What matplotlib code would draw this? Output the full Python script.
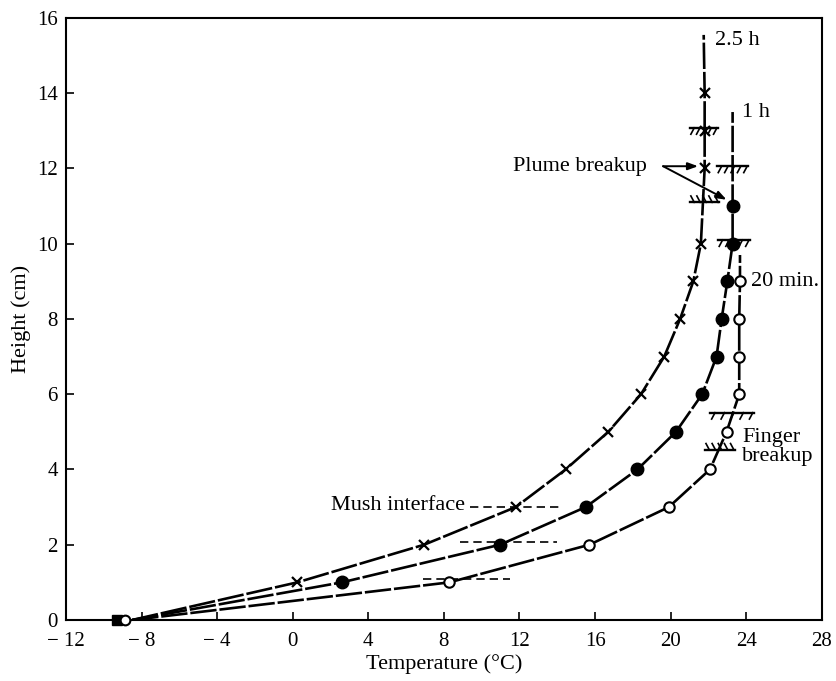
import matplotlib
matplotlib.use("Agg")
import matplotlib.pyplot as plt
import numpy as np

plt.rcParams['font.family'] = ['Liberation Serif', 'DejaVu Serif']
plt.rcParams['mathtext.fontset'] = 'stix'

# ---- data ----
# 2.5 h curve (x markers)
h_25 = [1, 2, 3, 4, 5, 6, 7, 8, 9, 10, 12, 13, 14]
T_25 = [0.24, 6.95, 11.8, 14.44, 16.7, 18.43, 19.66, 20.5, 21.2, 21.6, 21.8, 21.8, 21.8]
# line trace for 2.5 h (start, markers, top)
lh_25 = [0, 1, 2, 3, 4, 5, 6, 7, 8, 9, 10, 11, 12, 13, 14, 15.55]
lT_25 = [-8.5, 0.24, 6.95, 11.8, 14.44, 16.7, 18.43, 19.66, 20.5, 21.2, 21.6, 21.7, 21.8, 21.8, 21.8, 21.75]

# 1 h curve (filled circles)
h_1 = [1, 2, 3, 4, 5, 6, 7, 8, 9, 10, 11]
T_1 = [2.6, 10.97, 15.5, 18.24, 20.28, 21.67, 22.43, 22.7, 23.0, 23.28, 23.28]
lh_1 = [0, 1, 2, 3, 4, 5, 6, 7, 8, 9, 10, 11, 13.5]
lT_1 = [-8.5, 2.6, 10.97, 15.5, 18.24, 20.28, 21.67, 22.43, 22.7, 23.0, 23.28, 23.28, 23.28]

# 20 min curve (open circles)
h_20 = [1, 2, 3, 4, 5, 6, 7, 8, 9]
T_20 = [8.29, 15.7, 19.9, 22.08, 22.96, 23.63, 23.63, 23.63, 23.67]
lh_20 = [0, 1, 2, 3, 4, 5, 6, 7, 8, 9, 9.7]
lT_20 = [-8.5, 8.29, 15.7, 19.9, 22.08, 22.96, 23.63, 23.63, 23.63, 23.67, 23.67]

# points at zero height
T_sq = [-9.3]
T_oc0 = [-8.87]

# mush interface dashed marks (height, T start, T end)
mush_h = [3.0, 2.08, 1.08]
mush_T0 = [9.4, 8.85, 6.9]
mush_T1 = [14.1, 14.0, 11.5]

# breakup hatch marks (height, T start, T end, side)
hatch_h = [13.08, 12.06, 11.1, 10.1, 5.51, 4.52]
hatch_T0 = [21.0, 22.45, 21.0, 22.5, 22.1, 21.8]
hatch_T1 = [22.5, 24.1, 22.57, 24.2, 24.4, 23.4]
hatch_side = ['below', 'below', 'above', 'below', 'below', 'above']

x_ticks = [-12, -8, -4, 0, 4, 8, 12, 16, 20, 24, 28]
y_ticks = [0, 2, 4, 6, 8, 10, 12, 14, 16]

fig = plt.figure(figsize=(8.36, 6.81), dpi=100)
ax = fig.add_axes([0.079, 0.0896, 0.904, 0.884])

dash = (0, (10, 1.1))
lw = 1.9
ax.plot(lT_25, lh_25, color='black', lw=lw, linestyle=dash, zorder=2)
ax.plot(lT_1, lh_1, color='black', lw=lw, linestyle=dash, zorder=2)
ax.plot(lT_20, lh_20, color='black', lw=lw, linestyle=dash, zorder=2)

ax.plot(T_25, h_25, linestyle='none', marker='x', ms=7.5, mew=1.6, color='black', zorder=4)
ax.plot(T_1, h_1, linestyle='none', marker='o', ms=9, color='black', zorder=4)
ax.plot(T_20, h_20, linestyle='none', marker='o', ms=7.5, mfc='white', mec='black', mew=1.5, zorder=4)
ax.plot(T_sq, [0], linestyle='none', marker='s', ms=7, color='black', zorder=5, clip_on=False)
ax.plot(T_oc0, [0], linestyle='none', marker='o', ms=7, mfc='white', mec='black', mew=1.5, zorder=5, clip_on=False)

for h, t0, t1 in zip(mush_h, mush_T0, mush_T1):
    ax.plot([t0, t1], [h, h], color='black', lw=1.2, linestyle=(0, (5, 3)), zorder=3)

for h, t0, t1, side in zip(hatch_h, hatch_T0, hatch_T1, hatch_side):
    ax.plot([t0, t1], [h, h], color='black', lw=1.7, zorder=3)
    n = 5
    xs = np.linspace(t0 + 0.25, t1 - 0.05, n)
    dy = -0.17 if side == 'below' else 0.17
    for xx in xs:
        ax.plot([xx, xx - 0.18], [h, h + dy], color='black', lw=1.2, zorder=3)

fs = 16
ax.text(22.34, 15.4, '2.5 h', fontsize=fs, ha='left', va='center')
ax.text(23.8, 13.5, '1 h', fontsize=fs, ha='left', va='center')
ax.text(24.25, 9.0, '20 min.', fontsize=fs, ha='left', va='center')
ax.text(23.8, 4.6, 'Finger\nbreakup', fontsize=fs, ha='left', va='center', linespacing=1.05)
ax.text(9.12, 3.05, 'Mush interface', fontsize=fs, ha='right', va='center')
ax.text(11.66, 12.06, 'Plume breakup', fontsize=fs, ha='left', va='center')

arrow_kw = dict(arrowstyle='-|>,head_length=0.6,head_width=0.22', color='black', lw=1.4,
                shrinkA=0, shrinkB=0)
ax.annotate('', xy=(21.45, 12.06), xytext=(19.6, 12.06), arrowprops=arrow_kw)
ax.annotate('', xy=(22.96, 11.17), xytext=(19.6, 12.06), arrowprops=arrow_kw)

ax.set_xlim(-12, 28)
ax.set_ylim(0, 16)
ax.set_xticks(x_ticks)
ax.set_yticks(y_ticks)
ax.set_xticklabels([f'{t}'.replace('-', '\u2212 ') for t in x_ticks], fontsize=15)
ax.set_yticklabels([str(t) for t in y_ticks], fontsize=15)
ax.tick_params(direction='in', length=6, width=1.2, top=False, right=False)
ax.tick_params(axis='x', pad=9)
ax.tick_params(axis='y', pad=6)
for s in ax.spines.values():
    s.set_linewidth(1.5)
ax.set_xlabel('Temperature (°C)', fontsize=16, labelpad=2)
ax.set_ylabel('Height (cm)', fontsize=16, labelpad=4)

fig.savefig('out.png', dpi=100)
